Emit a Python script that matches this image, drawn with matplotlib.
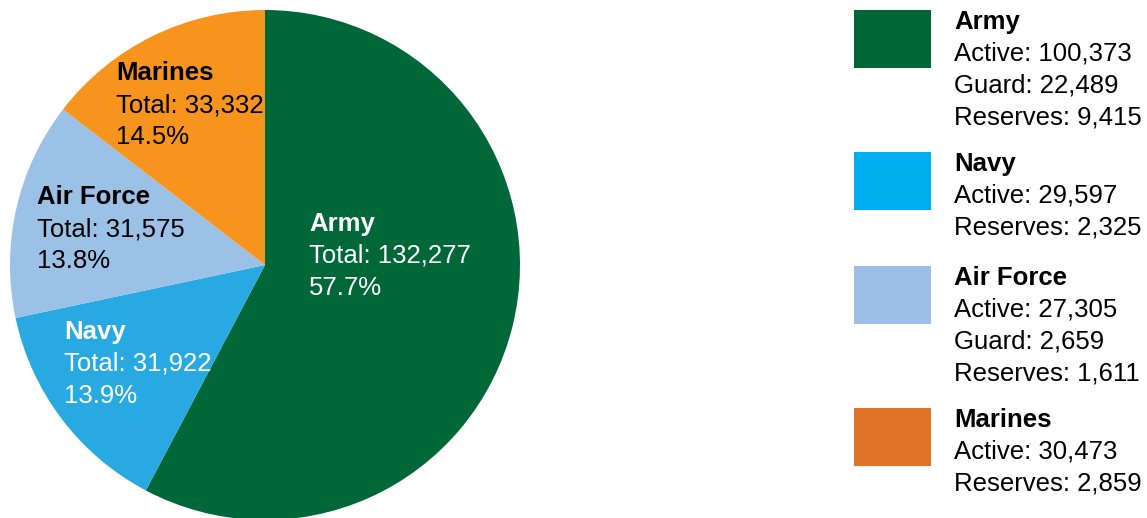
import matplotlib
matplotlib.use("Agg")
import matplotlib.pyplot as plt
from matplotlib.patches import Rectangle

# ---- data ----
branches = ["Army", "Navy", "Air Force", "Marines"]
active = [100373, 29597, 27305, 30473]
guard = [22489, None, 2659, None]
reserves = [9415, 2325, 1611, 2859]
totals = [a + (g or 0) + r for a, g, r in zip(active, guard, reserves)]

pie_colors = ["#006838", "#29A9E1", "#9BC1E6", "#F7941E"]
legend_colors = ["#006635", "#00AEEF", "#9BBFE6", "#E07328"]
label_colors = ["white", "white", "black", "black"]

W, H = 1147, 518
fig = plt.figure(figsize=(W / 100, H / 100), dpi=100)
ax = fig.add_axes([0, 0, 1, 1])
plt.rcParams["font.family"] = ["Liberation Sans", "DejaVu Sans"]

cx, cy, R = 265, H - 265, 255
ax.pie(totals, colors=pie_colors, startangle=90, counterclock=False,
       center=(cx, cy), radius=R, wedgeprops=dict(linewidth=0))
ax.set_xlim(0, W)
ax.set_ylim(0, H)
ax.set_aspect("auto")
ax.axis("off")

fs = 18.5
lh = 32
grand = sum(totals)

# pie labels: (x, baseline y of first line) in pixel coords from top
label_pos = [(309, 231), (64, 339), (37, 204), (116, 80)]
for i, name in enumerate(branches):
    x, y0 = label_pos[i]
    c = label_colors[i]
    ax.text(x, H - y0, name, fontsize=fs, fontweight="bold", color=c,
            ha="left", va="baseline")
    ax.text(x, H - (y0 + lh), f"Total: {totals[i]:,}", fontsize=fs, color=c,
            ha="left", va="baseline")
    ax.text(x, H - (y0 + 2 * lh), f"{totals[i] / grand * 100:.1f}%", fontsize=fs,
            color=c, ha="left", va="baseline")

# legend
sq_top = [10, 152, 266, 408]
for i, name in enumerate(branches):
    t = sq_top[i]
    ax.add_patch(Rectangle((854, H - t - 58), 77, 58, color=legend_colors[i], lw=0))
    lines = [f"Active: {active[i]:,}"]
    if guard[i] is not None:
        lines.append(f"Guard: {guard[i]:,}")
    lines.append(f"Reserves: {reserves[i]:,}")
    y0 = t + 19
    ax.text(954, H - y0, name, fontsize=fs, fontweight="bold", color="black",
            ha="left", va="baseline")
    for j, ln in enumerate(lines):
        ax.text(954, H - (y0 + (j + 1) * lh), ln, fontsize=fs, color="black",
                ha="left", va="baseline")

fig.savefig("out.png", dpi=100)
